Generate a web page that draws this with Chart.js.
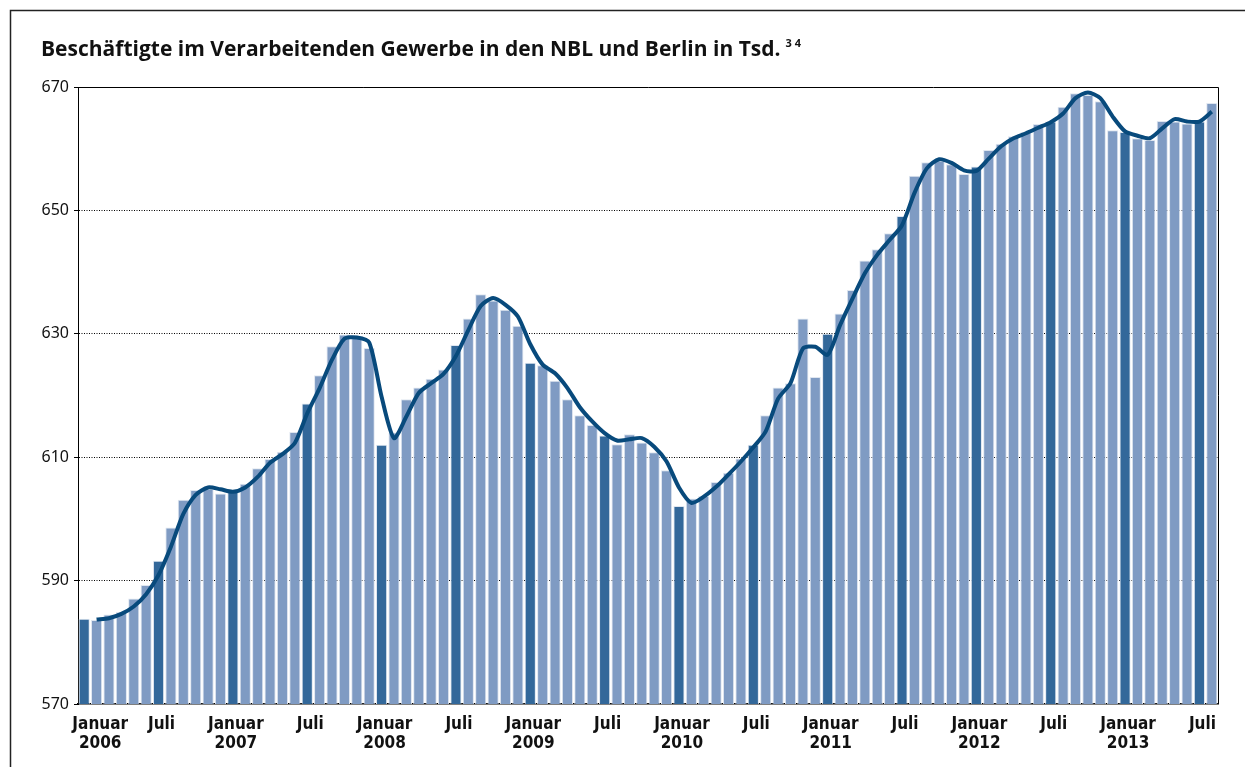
<!DOCTYPE html>
<html>
<head>
<meta charset="utf-8">
<script src="https://cdn.jsdelivr.net/npm/chart.js@4.4.1/dist/chart.umd.min.js"></script>
<style>
  html, body { margin: 0; padding: 0; background: #fff; }
  #wrap { width: 1245px; height: 767px; position: relative; }
</style>
</head>
<body>
<div id="wrap"><canvas id="beschChart" width="1245" height="767"></canvas></div>
<script>
//-------------
//- DATA -
//-------------
var years = ['2006', '2007', '2008', '2009', '2010', '2011', '2012', '2013'];
var monthNames = ['Jan', 'Feb', 'Mär', 'Apr', 'Mai', 'Jun', 'Jul', 'Aug', 'Sep', 'Okt', 'Nov', 'Dez'];

// Beschäftigte in Tsd., monthly Jan 2006 - Aug 2013
var beschaeftigte = [
    583.8, 583.6, 584.5, 584.9, 587.1, 589.3, 593.2, 598.6, 603.1, 604.7, 604.9, 604.1,
    604.6, 605.7, 608.2, 609.7, 610.9, 614.1, 618.7, 623.3, 628.0, 629.9, 629.3, 627.7,
    612.0, 614.0, 619.4, 621.3, 622.7, 624.2, 628.2, 632.5, 636.4, 635.4, 633.9, 631.3,
    625.3, 624.9, 622.4, 619.4, 616.8, 615.2, 613.5, 612.1, 613.7, 612.4, 610.8, 607.9,
    602.1, 603.3, 603.7, 606.0, 607.5, 609.8, 612.0, 616.8, 621.3, 622.0, 632.5, 623.0,
    630.0, 633.3, 637.1, 641.9, 643.7, 646.3, 649.1, 655.6, 657.8, 658.1, 657.5, 655.9,
    657.1, 659.8, 660.8, 662.0, 662.7, 664.0, 664.4, 666.8, 669.0, 668.7, 667.7, 663.0,
    662.7, 661.7, 661.4, 664.5, 664.4, 664.1, 664.4, 667.4
];

// Trend line (starts Feb 2006)
var trend = [
    null, 583.7, 583.9, 584.6, 585.8, 587.8, 590.9, 595.5, 600.8, 603.9, 605.1, 604.8,
    604.4, 605.1, 606.8, 609.1, 610.5, 612.3, 617.1, 621.2, 625.8, 629.2, 629.4, 628.6,
    619.8, 613.1, 616.6, 620.4, 622.0, 623.5, 626.4, 630.6, 634.5, 635.8, 634.7, 632.8,
    628.3, 625.0, 623.6, 621.2, 618.1, 615.8, 613.9, 612.7, 612.9, 613.1, 611.7, 609.3,
    605.1, 602.6, 603.6, 605.2, 607.2, 609.3, 611.6, 614.2, 619.5, 622.0, 627.6, 627.9,
    626.6, 631.4, 635.7, 639.8, 642.8, 645.2, 647.6, 652.8, 656.8, 658.3, 657.7, 656.5,
    656.4, 658.4, 660.4, 661.7, 662.5, 663.4, 664.3, 665.7, 668.2, 669.1, 668.2, 665.2,
    662.8, 662.1, 661.7, 663.3, 664.8, 664.4, 664.4, 666.0
];

var yTicks = [570, 590, 610, 630, 650, 670];
var xTickIndex = [0, 6, 12, 18, 24, 30, 36, 42, 48, 54, 60, 66, 72, 78, 84, 90];
var xTickLabels = [
    ['Januar', '2006'], ['Juli'], ['Januar', '2007'], ['Juli'],
    ['Januar', '2008'], ['Juli'], ['Januar', '2009'], ['Juli'],
    ['Januar', '2010'], ['Juli'], ['Januar', '2011'], ['Juli'],
    ['Januar', '2012'], ['Juli'], ['Januar', '2013'], ['Juli']
];
var titleText = 'Beschäftigte im Verarbeitenden Gewerbe in den NBL und Berlin in Tsd.';
var titleNote = '3 4';

var categories = [];
years.forEach(function (y) {
    monthNames.forEach(function (m) { categories.push(m + ' ' + y); });
});
categories = categories.slice(0, beschaeftigte.length);

// January and July bars are dark
var barColors = beschaeftigte.map(function (v, i) {
    return (i % 6 === 0) ? '#33689a' : '#7f9bc3';
});

var condFont = '"Liberation Sans Narrow", "DejaVu Sans Condensed", "Noto Sans", sans-serif';
var titleFont = '"Open Sans", "Noto Sans", sans-serif';

// frame, title and x labels
var decoPlugin = {
    id: 'deco',
    beforeDraw: function (chart) {
        var ctx = chart.ctx;
        ctx.save();
        ctx.fillStyle = '#fff';
        ctx.fillRect(0, 0, chart.width, chart.height);
        ctx.strokeStyle = '#222';
        ctx.lineWidth = 1.5;
        ctx.beginPath();
        ctx.moveTo(10.5, chart.height);
        ctx.lineTo(10.5, 10.5);
        ctx.lineTo(chart.width, 10.5);
        ctx.stroke();

        // title ("... NBL" ends near x = 593)
        ctx.fillStyle = '#111';
        ctx.font = 'bold 21px ' + titleFont;
        ctx.textBaseline = 'alphabetic';
        var pre = ctx.measureText(titleText.slice(0, titleText.indexOf('NBL') + 3)).width;
        var w = ctx.measureText(titleText).width;
        var sx = 552 / pre;
        ctx.save();
        ctx.translate(41, 56);
        ctx.scale(sx, 1);
        ctx.fillText(titleText, 0, 0);
        ctx.restore();
        ctx.font = 'bold 11px ' + titleFont;
        ctx.fillText(titleNote, 41 + w * sx + 5, 47);
        ctx.restore();
    },
    afterDraw: function (chart) {
        var ctx = chart.ctx, a = chart.chartArea, xs = chart.scales.x;
        ctx.save();
        ctx.strokeStyle = '#000';
        ctx.lineWidth = 1;
        ctx.beginPath();
        ctx.moveTo(a.left, Math.round(a.top) + 0.5);
        ctx.lineTo(Math.round(a.right) + 0.5, Math.round(a.top) + 0.5);
        ctx.lineTo(Math.round(a.right) + 0.5, a.bottom);
        ctx.stroke();

        ctx.fillStyle = '#111';
        ctx.font = 'bold 17px ' + condFont;
        ctx.textAlign = 'center';
        ctx.textBaseline = 'middle';
        xTickIndex.forEach(function (idx, k) {
            var x = xs.getPixelForValue(idx) + (k === 0 ? 16 : 3);
            xTickLabels[k].forEach(function (t, j) {
                ctx.fillText(t, x, a.bottom + 21 + j * 19);
            });
        });
        ctx.restore();
    }
};

var chartCanvas = document.getElementById('beschChart').getContext('2d');

var chartData = {
    labels: categories,
    datasets: [
        {
            type: 'line',
            data: trend,
            borderColor: '#084a7c',
            borderWidth: 4,
            pointRadius: 0,
            tension: 0.25,
            fill: false,
            spanGaps: false,
            order: 0
        },
        {
            type: 'bar',
            data: beschaeftigte,
            backgroundColor: barColors,
            borderColor: '#dfe6f0',
            borderWidth: 1,
            barPercentage: 0.9,
            categoryPercentage: 1.0,
            order: 1
        }
    ]
};

var chartOptions = {
    responsive: false,
    animation: false,
    layout: { padding: { left: 0, top: 87, right: 27, bottom: 63 } },
    plugins: {
        legend: { display: false },
        tooltip: { enabled: false },
        title: { display: false }
    },
    scales: {
        x: {
            offset: true,
            grid: { display: false },
            border: { display: true, color: '#000', width: 1.5 },
            ticks: { display: false },
            afterFit: function (scale) { scale.height = 0; }
        },
        y: {
            min: 570,
            max: 670,
            afterBuildTicks: function (scale) {
                scale.ticks = yTicks.map(function (v) { return { value: v }; });
            },
            grid: {
                color: function (c) {
                    var v = c.tick && c.tick.value;
                    return (v === 570 || v === 670) ? 'rgba(0,0,0,0)' : '#000';
                },
                lineWidth: 1,
                tickColor: '#000',
                tickLength: 4
            },
            border: { display: true, color: '#000', width: 1, dash: [1, 1.5] },
            ticks: {
                color: '#111',
                padding: 5,
                font: { family: '"Noto Sans", sans-serif', size: 16 }
            },
            afterFit: function (scale) { scale.width = 78; }
        }
    }
};

var beschChart = new Chart(chartCanvas, {
    type: 'bar',
    data: chartData,
    options: chartOptions,
    plugins: [decoPlugin]
});
</script>
</body>
</html>
